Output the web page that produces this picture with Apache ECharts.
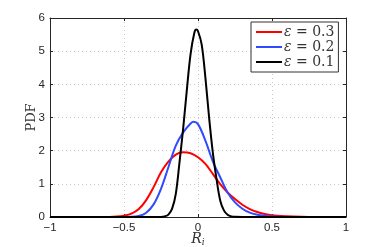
<!DOCTYPE html>
<html><head><meta charset="utf-8">
<script src="https://cdn.jsdelivr.net/npm/echarts@6/dist/echarts.min.js"></script>
<style>html,body{margin:0;padding:0;background:#fff}#c{width:382px;height:247px}</style>
</head><body><div id="c"></div>
<script>
// ---- data ----
const seriesNames = ['ε = 0.3', 'ε = 0.2', 'ε = 0.1'];
const redX   = [-1, -0.8, -0.6, -0.55, -0.5, -0.45, -0.4, -0.35, -0.3, -0.25, -0.2, -0.15, -0.1, -0.05, 0, 0.05, 0.1, 0.15, 0.2, 0.25, 0.3, 0.35, 0.4, 0.45, 0.5, 0.6, 0.7, 0.8, 1];
const redY   = [0, 0, 0.003, 0.012, 0.04, 0.1, 0.24, 0.51, 0.9, 1.35, 1.67, 1.88, 1.95, 1.92, 1.8, 1.6, 1.3, 0.99, 0.74, 0.54, 0.37, 0.24, 0.15, 0.09, 0.05, 0.02, 0.005, 0, 0];
const blueX  = [-1, -0.6, -0.45, -0.4, -0.35, -0.3, -0.25, -0.2, -0.15, -0.1, -0.05, -0.03, 0, 0.05, 0.1, 0.15, 0.2, 0.25, 0.3, 0.35, 0.4, 0.45, 0.5, 0.6, 1];
const blueY  = [0, 0, 0.005, 0.03, 0.13, 0.38, 0.85, 1.5, 2.15, 2.55, 2.82, 2.87, 2.8, 2.3, 1.68, 1.2, 0.74, 0.44, 0.25, 0.13, 0.07, 0.035, 0.015, 0.002, 0];
const blackX = [-1, -0.3, -0.25, -0.225, -0.2, -0.175, -0.15, -0.125, -0.1, -0.075, -0.05, -0.025, -0.012, 0, 0.025, 0.05, 0.075, 0.1, 0.125, 0.15, 0.175, 0.2, 0.225, 0.25, 0.3, 1];
const blackY = [0, 0, 0.003, 0.02, 0.07, 0.25, 0.7, 1.65, 2.68, 3.85, 4.92, 5.55, 5.65, 5.6, 5.2, 4.2, 3.0, 1.95, 1.15, 0.5, 0.2, 0.07, 0.02, 0.004, 0, 0];
const xTicks = [-1, -0.5, 0, 0.5, 1];
const yTicks = [0, 1, 2, 3, 4, 5, 6];
// --------------------------------------
const zip = (xs, ys) => xs.map((x, i) => [x, ys[i]]);
const fmtX = v => (v < 0 ? '\u2212' + Math.abs(v) : String(v));
const axisCol = '#262626';
const lblFont = {color: '#262626', fontFamily: 'Liberation Sans, Arial, sans-serif', fontSize: 11.5};
const chart = echarts.init(document.getElementById('c'), null, {renderer: 'canvas'});
const baseX = {
  type: 'value', min: xTicks[0], max: xTicks[xTicks.length - 1], interval: 0.5,
  axisLine: {onZero: false, lineStyle: {color: axisCol, width: 1}},
  axisTick: {inside: true, length: 3, lineStyle: {color: axisCol}},
};
const baseY = {
  type: 'value', min: yTicks[0], max: yTicks[yTicks.length - 1], interval: 1,
  axisLine: {onZero: false, lineStyle: {color: axisCol, width: 1}},
  axisTick: {inside: true, length: 3, lineStyle: {color: axisCol}},
};
const line = (name, xs, ys, color) => ({
  name, type: 'line', data: zip(xs, ys), smooth: 0.35, showSymbol: false,
  lineStyle: {color, width: 2}, itemStyle: {color}, z: 3
});
chart.setOption({
  animation: false,
  backgroundColor: '#fff',
  grid: {left: 50, right: 36, top: 18, bottom: 30, containLabel: false, outerBoundsMode: 'none'},
  xAxis: [
    Object.assign({}, baseX, {
      position: 'bottom',
      axisLabel: Object.assign({margin: 5, formatter: fmtX}, lblFont),
      splitLine: {show: true, lineStyle: {color: '#c8c8c8', type: [1, 3], width: 1}},
      name: '{r|R}{i|i}', nameLocation: 'middle', nameGap: 14, nameMoveOverlap: false,
      nameTextStyle: {verticalAlign: 'top', rich: {
        r: {fontFamily: 'DejaVu Serif, serif', fontStyle: 'italic', fontSize: 14, color: '#333', lineHeight: 16},
        i: {fontFamily: 'DejaVu Serif, serif', fontStyle: 'italic', fontSize: 9, color: '#333', lineHeight: 9, verticalAlign: 'bottom'}
      }}
    }),
    Object.assign({}, baseX, {position: 'top', axisLabel: {show: false}, splitLine: {show: false}})
  ],
  yAxis: [
    Object.assign({}, baseY, {
      position: 'left',
      axisLabel: Object.assign({margin: 5}, lblFont),
      splitLine: {show: true, lineStyle: {color: '#c8c8c8', type: [1, 3], width: 1}},
      name: 'PDF', nameLocation: 'middle', nameGap: 12, nameRotate: 90, nameMoveOverlap: false,
      nameTextStyle: {fontFamily: 'DejaVu Serif, serif', fontSize: 13, color: '#333'}
    }),
    Object.assign({}, baseY, {position: 'right', axisLabel: {show: false}, splitLine: {show: false}})
  ],
  legend: {
    orient: 'vertical', left: 251, top: 22, width: 86,
    padding: [3, 4, 3, 5], itemGap: 1, itemWidth: 26, itemHeight: 2,
    icon: 'rect', borderColor: '#333', borderWidth: 1, backgroundColor: '#fff',
    data: seriesNames,
    formatter: n => '{e|ε}{t|' + n.slice(1) + '}',
    textStyle: {
      padding: [0, 0, 0, -3],
      rich: {
        e: {fontFamily: 'DejaVu Serif, serif', fontStyle: 'italic', fontSize: 14, color: '#333', lineHeight: 14},
        t: {fontFamily: 'DejaVu Serif, serif', fontSize: 14, color: '#333', lineHeight: 14}
      }
    }
  },
  series: [
    line(seriesNames[0], redX, redY, '#ff0000'),
    line(seriesNames[1], blueX, blueY, '#2e4bff'),
    line(seriesNames[2], blackX, blackY, '#000000')
  ]
});
</script></body></html>
